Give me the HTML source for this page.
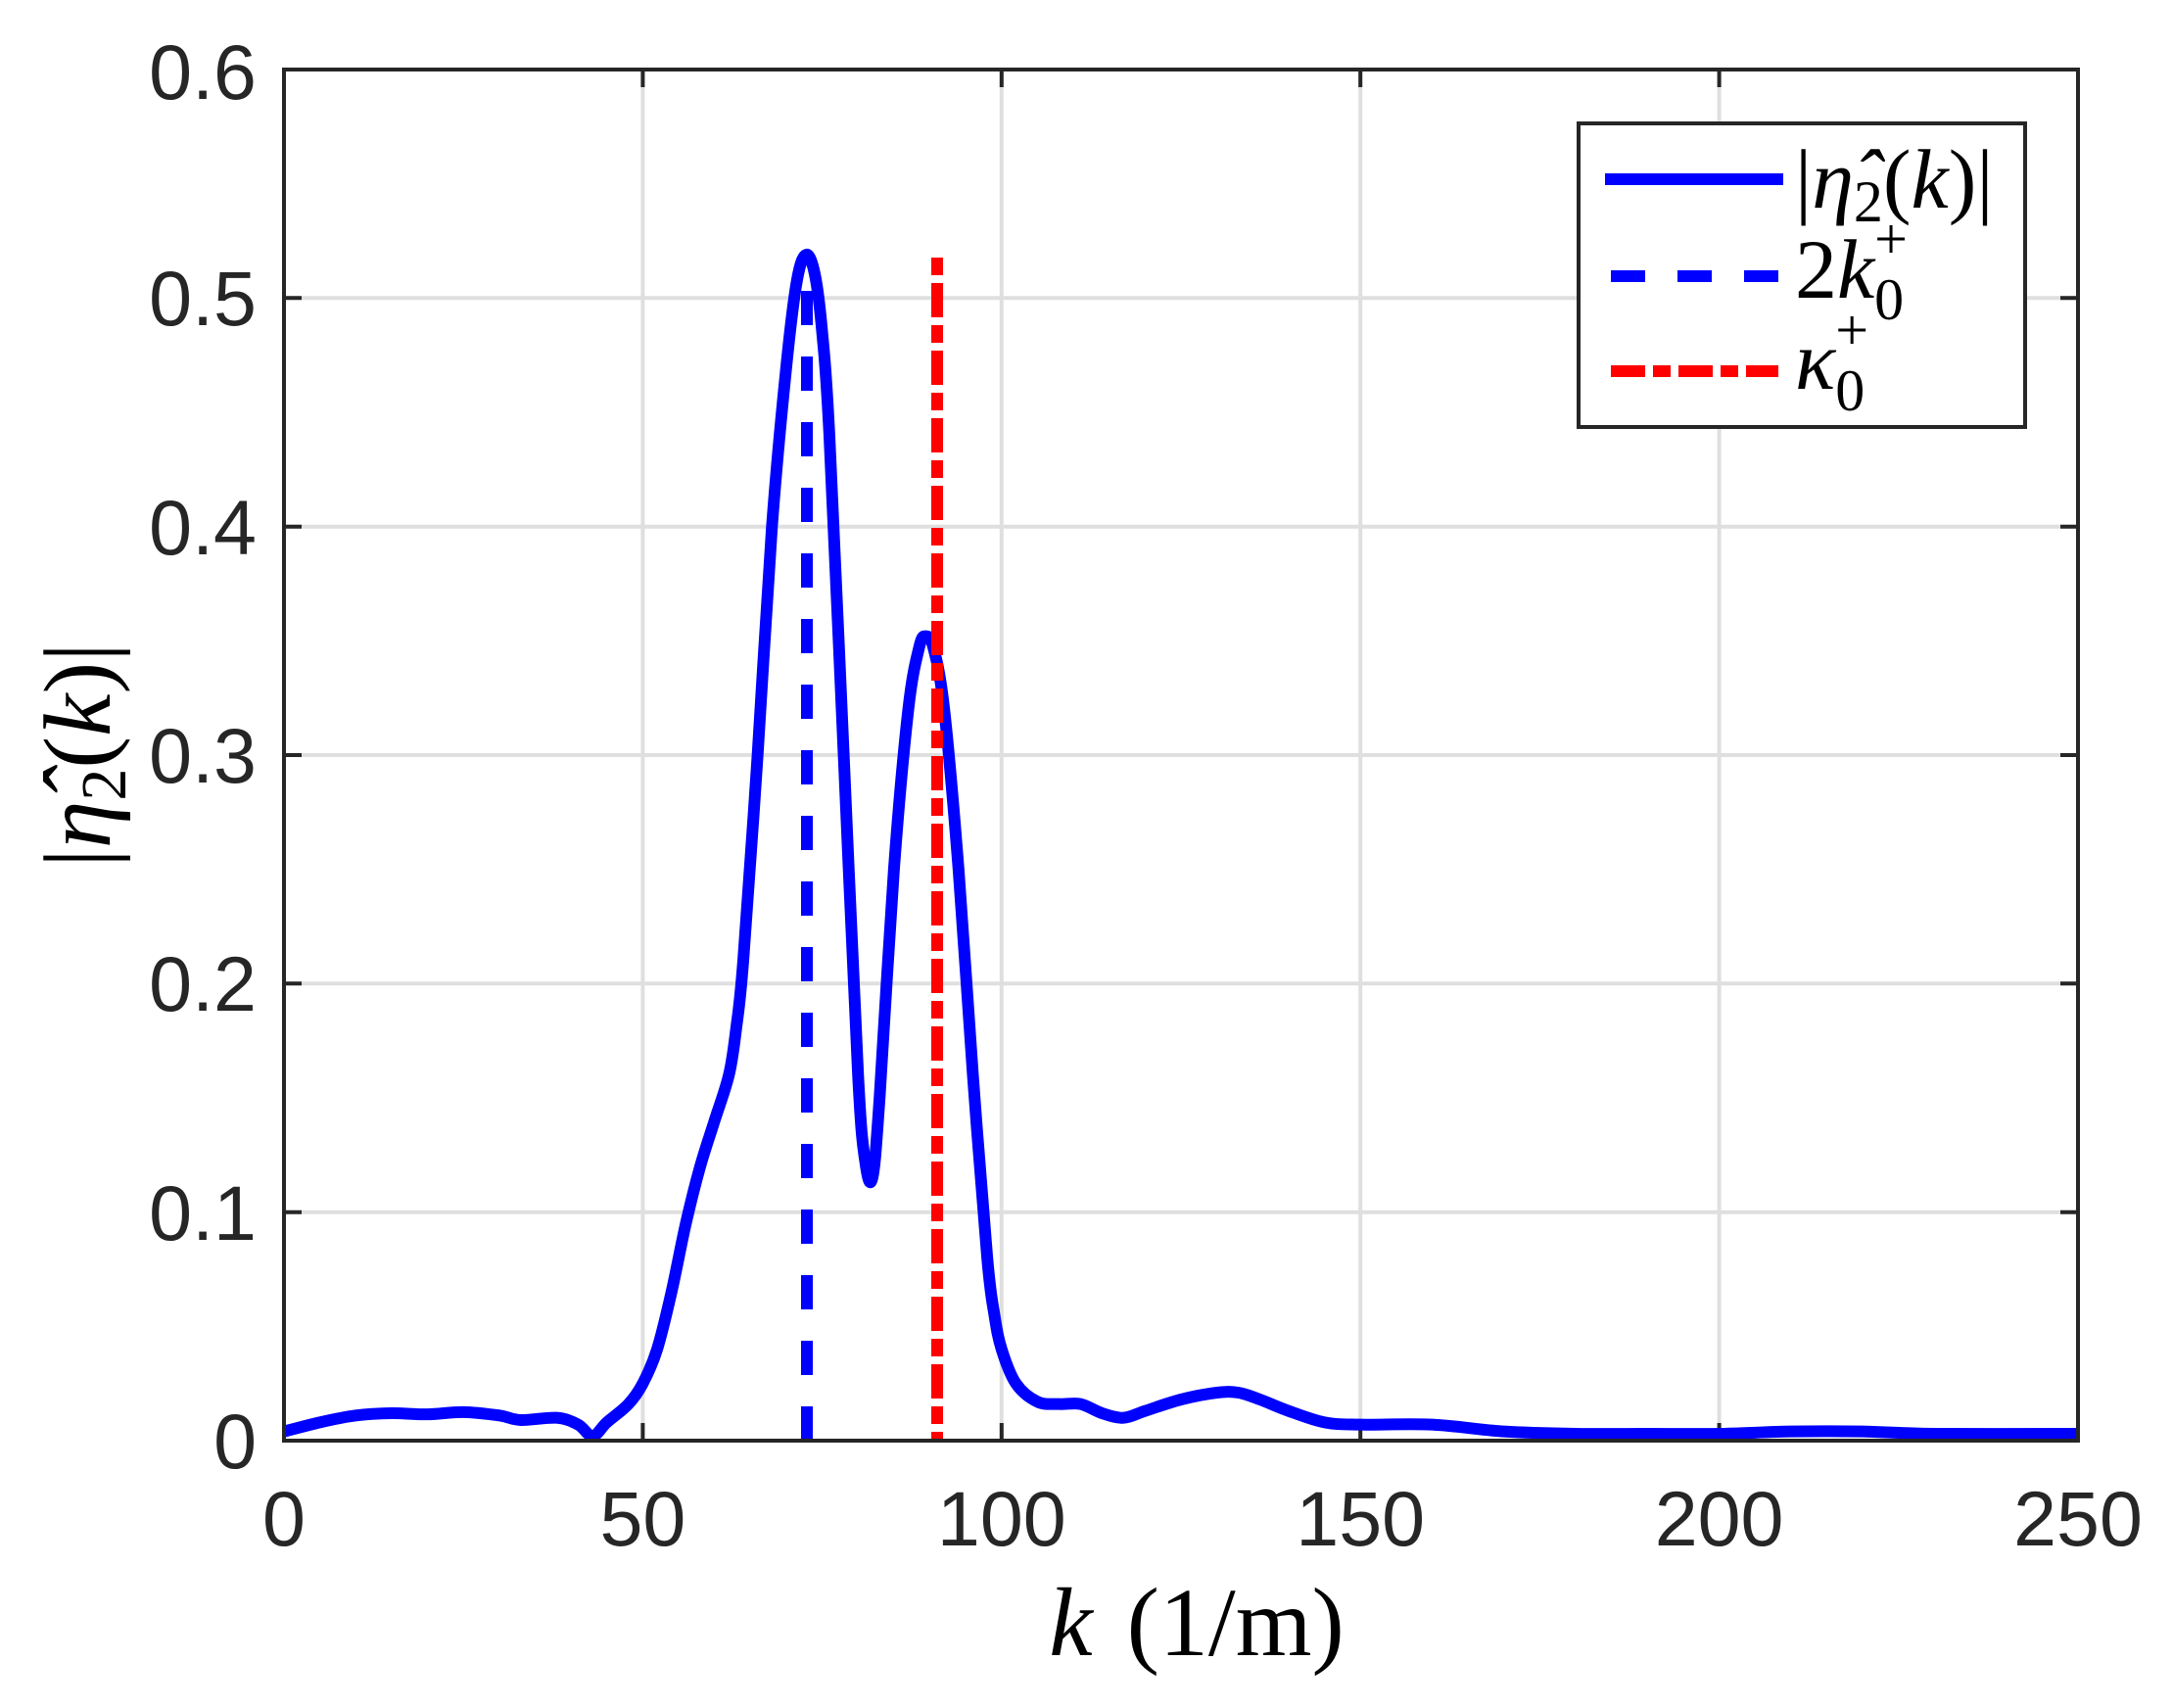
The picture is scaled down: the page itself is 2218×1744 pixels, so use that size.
<!DOCTYPE html>
<html><head><meta charset="utf-8"><style>
html,body{margin:0;padding:0;background:#fff;}
svg{display:block;}
.tk{font-family:"Liberation Sans",Arial,sans-serif;font-size:79px;fill:#262626;}
.mx{font-family:"Liberation Serif","DejaVu Serif",serif;fill:#000;}
</style></head><body>
<svg width="2218" height="1744" viewBox="0 0 2218 1744" xmlns="http://www.w3.org/2000/svg">
<rect width="2218" height="1744" fill="#fff"/>
<g stroke="#dfdfdf" stroke-width="4">
<line x1="656.4" y1="71" x2="656.4" y2="1471"/><line x1="1022.8" y1="71" x2="1022.8" y2="1471"/>
<line x1="1389.2" y1="71" x2="1389.2" y2="1471"/><line x1="1755.6" y1="71" x2="1755.6" y2="1471"/>
<line x1="290" y1="1237.7" x2="2122" y2="1237.7"/><line x1="290" y1="1004.3" x2="2122" y2="1004.3"/>
<line x1="290" y1="771" x2="2122" y2="771"/><line x1="290" y1="537.7" x2="2122" y2="537.7"/>
<line x1="290" y1="304.3" x2="2122" y2="304.3"/>
</g>
<g stroke="#262626" stroke-width="4">
<line x1="656.4" y1="1471" x2="656.4" y2="1453"/><line x1="1022.8" y1="1471" x2="1022.8" y2="1453"/>
<line x1="1389.2" y1="1471" x2="1389.2" y2="1453"/><line x1="1755.6" y1="1471" x2="1755.6" y2="1453"/>
<line x1="656.4" y1="71" x2="656.4" y2="89"/><line x1="1022.8" y1="71" x2="1022.8" y2="89"/>
<line x1="1389.2" y1="71" x2="1389.2" y2="89"/><line x1="1755.6" y1="71" x2="1755.6" y2="89"/>
<line x1="290" y1="1237.7" x2="308" y2="1237.7"/><line x1="290" y1="1004.3" x2="308" y2="1004.3"/>
<line x1="290" y1="771" x2="308" y2="771"/><line x1="290" y1="537.7" x2="308" y2="537.7"/>
<line x1="290" y1="304.3" x2="308" y2="304.3"/>
<line x1="2122" y1="1237.7" x2="2104" y2="1237.7"/><line x1="2122" y1="1004.3" x2="2104" y2="1004.3"/>
<line x1="2122" y1="771" x2="2104" y2="771"/><line x1="2122" y1="537.7" x2="2104" y2="537.7"/>
<line x1="2122" y1="304.3" x2="2104" y2="304.3"/>
</g>
<path id="curve" fill="none" stroke="#0000ff" stroke-width="12" stroke-linejoin="round" d=""/>
<line x1="824" y1="1471" x2="824" y2="259" stroke="#0000ff" stroke-width="12" stroke-dasharray="35 32"/>
<line x1="957" y1="263" x2="957" y2="1471" stroke="#ff0000" stroke-width="12" stroke-dasharray="18 8 35 8"/>
<rect x="290" y="71" width="1832" height="1400" fill="none" stroke="#262626" stroke-width="4"/>
<g class="tk" text-anchor="end">
<text x="262" y="1499">0</text><text x="262" y="1266">0.1</text><text x="262" y="1032">0.2</text>
<text x="262" y="799">0.3</text><text x="262" y="566">0.4</text><text x="262" y="332">0.5</text>
<text x="262" y="101">0.6</text>
</g>
<g class="tk" text-anchor="middle">
<text x="290" y="1578">0</text><text x="656.4" y="1578">50</text><text x="1022.8" y="1578">100</text>
<text x="1389.2" y="1578">150</text><text x="1755.6" y="1578">200</text><text x="2122" y="1578">250</text>
</g>
<text class="mx" x="1222" y="1690" font-size="100" text-anchor="middle"><tspan font-style="italic">k</tspan> <tspan dx="10">(1/m)</tspan></text>
<text class="mx" transform="translate(112,771) rotate(-90)" font-size="98" text-anchor="middle" fill="#262626">|<tspan font-style="italic">η̂</tspan><tspan font-size="66" dy="16">2</tspan><tspan dy="-16">(</tspan><tspan font-style="italic">k</tspan>)|</text>
<rect x="1612" y="126" width="456" height="310" fill="#fff" stroke="#262626" stroke-width="4"/>
<line x1="1639" y1="183" x2="1821" y2="183" stroke="#0000ff" stroke-width="12"/>
<line x1="1645" y1="282" x2="1816" y2="282" stroke="#0000ff" stroke-width="12" stroke-dasharray="35 33"/>
<line x1="1645" y1="379" x2="1816" y2="379" stroke="#ff0000" stroke-width="12" stroke-dasharray="35 8 18 8"/>
<text class="mx" x="1833" y="212" font-size="86">|<tspan font-style="italic">η̂</tspan><tspan font-size="60" dy="14">2</tspan><tspan dy="-14">(</tspan><tspan font-style="italic">k</tspan>)|</text>
<text class="mx" x="1833" y="304" font-size="86">2<tspan font-style="italic">k</tspan><tspan font-size="60" dy="22">0</tspan><tspan font-size="60" dx="-30" dy="-62">+</tspan></text>
<text class="mx" x="1833" y="397" font-size="86"><tspan font-style="italic">κ</tspan><tspan font-size="60" dy="22">0</tspan><tspan font-size="60" dx="-30" dy="-62">+</tspan></text>
</svg>
<script>
var d=[[0,0.004],[5,0.008],[10,0.011],[15,0.012],[20,0.0115],[25,0.0125],[30,0.011],[33,0.009],[38,0.010],[41,0.007],[43,0.002],[45,0.008],[48,0.016],[50,0.025],[52,0.04],[54,0.065],[56,0.095],[58,0.12],[60,0.14],[62,0.16],[63,0.18],[64,0.21],[66,0.3],[68,0.4],[70,0.47],[71.5,0.508],[72.8,0.519],[74,0.51],[75,0.485],[76,0.44],[78,0.3],[80,0.16],[81,0.122],[82,0.115],[83,0.15],[85,0.25],[87,0.32],[88.5,0.347],[89.4,0.352],[90.5,0.347],[92,0.32],[94,0.25],[96,0.16],[98,0.08],[99,0.055],[100,0.04],[102,0.025],[105,0.017],[108,0.016],[111,0.016],[114,0.012],[117,0.01],[120,0.013],[125,0.018],[130,0.021],[133,0.021],[136,0.018],[140,0.013],[145,0.008],[150,0.007],[160,0.007],[170,0.004],[180,0.003],[190,0.003],[200,0.003],[210,0.004],[220,0.004],[230,0.003],[250,0.003]];
var p=d.map(function(a){return [290+a[0]*7.328,1471-a[1]*2333.3];});
var s="M"+p[0][0]+","+p[0][1];
for(var i=0;i<p.length-1;i++){var p0=p[Math.max(i-1,0)],p1=p[i],p2=p[i+1],p3=p[Math.min(i+2,p.length-1)];
var c1x=p1[0]+(p2[0]-p0[0])/6,c1y=p1[1]+(p2[1]-p0[1])/6,c2x=p2[0]-(p3[0]-p1[0])/6,c2y=p2[1]-(p3[1]-p1[1])/6;
s+=" C"+c1x+","+c1y+" "+c2x+","+c2y+" "+p2[0]+","+p2[1];}
document.getElementById("curve").setAttribute("d",s);
</script>
</body></html>
